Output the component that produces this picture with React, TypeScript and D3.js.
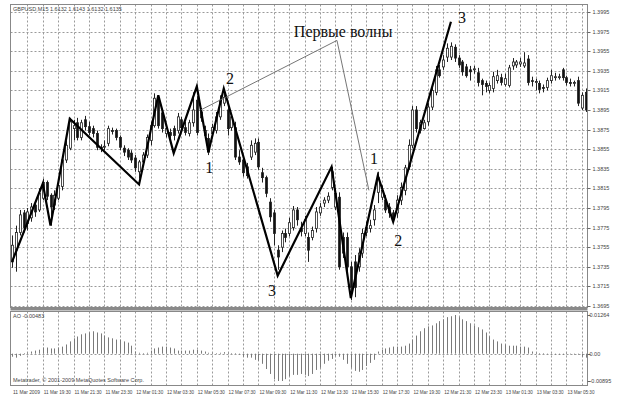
import React from 'react';
import * as d3 from 'd3';

// [open, high, low, close]
const candles: [number, number, number, number][] = [
  [1.3740,1.3767,1.3734,1.3757],[1.3752,1.3777,1.3730,1.3770],[1.3770,1.3793,1.3767,1.3788],[1.3790,1.3793,1.3770,1.3775],
  [1.3779,1.3795,1.3772,1.3791],[1.3785,1.3800,1.3781,1.3796],[1.3798,1.3803,1.3786,1.3791],[1.3793,1.3815,1.3791,1.3810],
  [1.3805,1.3825,1.3803,1.3821],[1.3821,1.3823,1.3803,1.3807],[1.3808,1.3810,1.3777,1.3796],[1.3798,1.3813,1.3793,1.3808],
  [1.3805,1.3823,1.3803,1.3818],[1.3817,1.3847,1.3813,1.3844],[1.3844,1.3864,1.3841,1.3859],[1.3856,1.3887,1.3854,1.3883],
  [1.3876,1.3885,1.3864,1.3879],[1.3882,1.3887,1.3864,1.3867],[1.3867,1.3885,1.3864,1.3882],[1.3885,1.3889,1.3874,1.3878],
  [1.3878,1.3883,1.3869,1.3872],[1.3876,1.3879,1.3867,1.3871],[1.3871,1.3874,1.3854,1.3857],[1.3857,1.3860,1.3852,1.3856],
  [1.3857,1.3864,1.3854,1.3858],[1.3861,1.3879,1.3858,1.3876],[1.3874,1.3877,1.3870,1.3873],[1.3874,1.3876,1.3864,1.3867],
  [1.3867,1.3869,1.3854,1.3857],[1.3856,1.3859,1.3848,1.3852],[1.3854,1.3856,1.3844,1.3847],[1.3851,1.3854,1.3841,1.3844],
  [1.3846,1.3849,1.3832,1.3836],[1.3832,1.3844,1.3825,1.3842],[1.3842,1.3852,1.3839,1.3849],[1.3849,1.3870,1.3846,1.3867],
  [1.3864,1.3883,1.3859,1.3879],[1.3879,1.3912,1.3877,1.3907],[1.3907,1.3910,1.3876,1.3879],[1.3892,1.3895,1.3872,1.3876],
  [1.3871,1.3879,1.3867,1.3876],[1.3872,1.3876,1.3864,1.3869],[1.3876,1.3879,1.3864,1.3869],[1.3874,1.3892,1.3871,1.3888],
  [1.3885,1.3888,1.3874,1.3877],[1.3877,1.3883,1.3869,1.3872],[1.3871,1.3885,1.3868,1.3882],[1.3882,1.3913,1.3878,1.3895],
  [1.3905,1.3909,1.3869,1.3872],[1.3893,1.3897,1.3883,1.3887],[1.3869,1.3879,1.3866,1.3874],[1.3866,1.3871,1.3849,1.3852],
  [1.3871,1.3881,1.3868,1.3877],[1.3874,1.3893,1.3871,1.3888],[1.3888,1.3910,1.3885,1.3905],[1.3902,1.3913,1.3899,1.3908],
  [1.3895,1.3900,1.3869,1.3876],[1.3877,1.3890,1.3874,1.3888],[1.3877,1.3883,1.3844,1.3847],[1.3847,1.3854,1.3839,1.3842],
  [1.3844,1.3849,1.3827,1.3831],[1.3837,1.3841,1.3825,1.3828],[1.3847,1.3864,1.3844,1.3859],[1.3852,1.3866,1.3849,1.3861],
  [1.3862,1.3866,1.3834,1.3837],[1.3831,1.3836,1.3821,1.3826],[1.3826,1.3828,1.3806,1.3810],[1.3801,1.3805,1.3781,1.3786],
  [1.3790,1.3793,1.3757,1.3769],[1.3752,1.3757,1.3732,1.3745],[1.3755,1.3772,1.3750,1.3769],[1.3769,1.3774,1.3760,1.3765],
  [1.3769,1.3785,1.3766,1.3780],[1.3775,1.3797,1.3772,1.3793],[1.3793,1.3796,1.3777,1.3783],[1.3774,1.3781,1.3766,1.3771],
  [1.3769,1.3787,1.3766,1.3783],[1.3765,1.3770,1.3740,1.3752],[1.3765,1.3776,1.3762,1.3772],[1.3774,1.3796,1.3770,1.3791],
  [1.3790,1.3800,1.3787,1.3796],[1.3800,1.3806,1.3796,1.3803],[1.3803,1.3811,1.3800,1.3807],[1.3816,1.3837,1.3813,1.3832],
  [1.3796,1.3815,1.3793,1.3810],[1.3806,1.3811,1.3732,1.3735],[1.3765,1.3770,1.3744,1.3749],[1.3765,1.3770,1.3730,1.3735],
  [1.3735,1.3740,1.3701,1.3714],[1.3740,1.3747,1.3704,1.3714],[1.3735,1.3754,1.3730,1.3749],[1.3749,1.3774,1.3744,1.3769],
  [1.3770,1.3781,1.3766,1.3775],[1.3774,1.3783,1.3770,1.3777],[1.3783,1.3798,1.3777,1.3793],[1.3811,1.3832,1.3800,1.3826],
  [1.3806,1.3818,1.3803,1.3813],[1.3803,1.3808,1.3790,1.3793],[1.3796,1.3800,1.3785,1.3790],[1.3790,1.3793,1.3781,1.3783],
  [1.3790,1.3808,1.3785,1.3803],[1.3803,1.3821,1.3798,1.3816],[1.3813,1.3839,1.3808,1.3836],[1.3837,1.3865,1.3834,1.3859],
  [1.3859,1.3899,1.3856,1.3895],[1.3895,1.3899,1.3872,1.3876],[1.3874,1.3885,1.3871,1.3882],[1.3876,1.3885,1.3875,1.3882],
  [1.3883,1.3902,1.3879,1.3898],[1.3898,1.3920,1.3895,1.3915],[1.3913,1.3940,1.3910,1.3936],[1.3936,1.3941,1.3928,1.3930],
  [1.3939,1.3951,1.3936,1.3946],[1.3949,1.3963,1.3944,1.3958],[1.3949,1.3964,1.3946,1.3960],[1.3959,1.3962,1.3944,1.3948],
  [1.3948,1.3951,1.3938,1.3941],[1.3944,1.3946,1.3930,1.3934],[1.3939,1.3942,1.3928,1.3930],[1.3936,1.3940,1.3925,1.3934],
  [1.3936,1.3940,1.3932,1.3937],[1.3933,1.3938,1.3919,1.3923],[1.3925,1.3927,1.3910,1.3921],[1.3922,1.3925,1.3913,1.3919],
  [1.3915,1.3923,1.3912,1.3920],[1.3917,1.3934,1.3913,1.3929],[1.3925,1.3936,1.3922,1.3930],[1.3928,1.3932,1.3920,1.3923],
  [1.3921,1.3932,1.3919,1.3927],[1.3920,1.3941,1.3918,1.3938],[1.3940,1.3948,1.3936,1.3944],[1.3941,1.3946,1.3938,1.3944],
  [1.3942,1.3948,1.3939,1.3944],[1.3940,1.3954,1.3938,1.3943],[1.3947,1.3951,1.3920,1.3923],[1.3925,1.3929,1.3919,1.3924],
  [1.3923,1.3927,1.3915,1.3924],[1.3922,1.3925,1.3912,1.3916],[1.3918,1.3921,1.3913,1.3917],[1.3918,1.3928,1.3915,1.3925],
  [1.3925,1.3936,1.3922,1.3930],[1.3928,1.3933,1.3925,1.3929],[1.3928,1.3932,1.3926,1.3929],[1.3936,1.3938,1.3925,1.3928],
  [1.3928,1.3930,1.3920,1.3923],[1.3923,1.3927,1.3919,1.3922],[1.3922,1.3925,1.3919,1.3923],[1.3925,1.3929,1.3899,1.3902],
  [1.3897,1.3913,1.3895,1.3910],[1.3913,1.3917,1.3893,1.3895],
];

const aoValues = [
  -0.0010,-0.0013,-0.0007,0.0002,0.0003,0.0007,0.0010,0.0013,0.0020,0.0020,
  0.0017,0.0017,0.0020,0.0023,0.0030,0.0040,0.0050,0.0056,0.0063,0.0066,
  0.0069,0.0073,0.0069,0.0066,0.0059,0.0053,0.0050,0.0046,0.0046,0.0040,
  0.0036,0.0026,0.0007,0.0003,0.0002,0.0003,0.0010,0.0017,0.0020,0.0023,
  0.0023,0.0020,0.0017,0.0010,0.0010,0.0010,0.0010,0.0013,0.0013,0.0010,
  0.0007,0.0003,0.0003,0.0002,0.0003,0.0005,0.0003,0.0002,0.0002,-0.0003,
  -0.0010,-0.0013,-0.0013,-0.0020,-0.0023,-0.0033,-0.0050,-0.0066,-0.0083,-0.0089,
  -0.0089,-0.0083,-0.0073,-0.0069,-0.0069,-0.0066,-0.0069,-0.0073,-0.0066,-0.0053,
  -0.0046,-0.0033,-0.0023,-0.0017,-0.0007,-0.0010,-0.0020,-0.0033,-0.0046,-0.0056,
  -0.0059,-0.0053,-0.0040,-0.0030,-0.0020,0.0007,0.0013,0.0017,0.0020,0.0023,
  0.0023,0.0023,0.0026,0.0033,0.0046,0.0059,0.0073,0.0083,0.0089,0.0092,
  0.0099,0.0106,0.0112,0.0119,0.0122,0.0126,0.0119,0.0112,0.0106,0.0099,
  0.0092,0.0086,0.0079,0.0069,0.0056,0.0046,0.0040,0.0033,0.0030,0.0026,
  0.0026,0.0026,0.0023,0.0023,0.0020,0.0007,0.0003,0.0002,0.0002,-0.0002,
  -0.0002,-0.0003,-0.0003,-0.0003,0.0002,-0.0002,-0.0003,-0.0003,-0.0010,-0.0013,
];

// [bar index, price]
const zigzag: [number, number][] = [
  [0, 1.3740], [8, 1.3820], [10, 1.3777], [15, 1.3886], [33, 1.3819], [38, 1.3910],
  [42, 1.3851], [48, 1.3919], [51, 1.3852], [55, 1.3917], [69, 1.3726], [83, 1.3837],
  [88, 1.3703], [95, 1.3828], [99, 1.3781], [114, 1.3985],
];

const pointerLine: [number, number][] = [[49, 1.3895], [84.4, 1.3966], [92.7, 1.3813]];

const waveLabels = [
  { text: '2', bar: 56.6, price: 1.3927 },
  { text: '1', bar: 51.2, price: 1.3836 },
  { text: '3', bar: 67.5, price: 1.3711 },
  { text: '1', bar: 94.0, price: 1.3846 },
  { text: '2', bar: 100.3, price: 1.3762 },
  { text: '3', bar: 116.9, price: 1.3989 },
];
const annotation = { text: 'Первые волны', bar: 86, price: 1.3975 };

const priceTicks = [1.3995,1.3975,1.3955,1.3935,1.3915,1.3895,1.3875,1.3855,1.3835,1.3815,1.3795,1.3775,1.3755,1.3735,1.3715,1.3695];

const timeLabels = [
  '11 Mar 2009','11 Mar 19:30','11 Mar 21:30','11 Mar 23:30','12 Mar 01:30','12 Mar 03:30','12 Mar 05:30',
  '12 Mar 07:30','12 Mar 09:30','12 Mar 11:30','12 Mar 13:30','12 Mar 15:30','12 Mar 17:30','12 Mar 19:30',
  '12 Mar 21:30','12 Mar 23:30','13 Mar 01:30','13 Mar 03:30','13 Mar 05:30',
];
const aoTickLabels = [
  { v: 0.0126, t: '0.01264' },
  { v: 0, t: '0.00' },
  { v: -0.0089, t: '-0.00895' },
];

const headerText = 'GBPUSD,M15  1.6132 1.6143 1.6132 1.6135';
const aoTitle = 'AO -0.00483';
const copyright = 'Metatrader, © 2001-2009 MetaQuotes Software Corp.';

export default function App() {
  const W = 617, H = 398;
  const left = 10.5, right = 587.5;
  const mainTop = 4.5, mainBottom = 307.5;
  const aoTop = 311.5, aoBottom = 385.5;

  const x = d3.scaleLinear().domain([0, 149]).range([12, 585.7]);
  const y = d3.scaleLinear().domain([1.3695, 1.3995]).range([306, 12]);
  const ya = d3.scaleLinear().domain([-0.0089, 0.0126]).range([381, 315]);

  const gridColor = '#9a9a9a';
  const small = { fontFamily: 'Arial, "Liberation Sans", sans-serif', fontSize: 5.5, fill: '#444' } as const;
  const serif = { fontFamily: '"Liberation Serif", "DejaVu Serif", serif', fontSize: 16, fill: '#111' } as const;

  const vGrid = d3.range(4, 150, 4);
  const line = d3.line<[number, number]>().x(d => x(d[0])).y(d => y(d[1]));

  return (
    <svg width={W} height={H} style={{ position: 'absolute', left: 0, top: 0, background: '#fff' }}>
      <rect x={0} y={0} width={W} height={H} fill="#fff" />
      {priceTicks.map((p, i) => (
        <line key={'hg' + i} x1={left} x2={right} y1={Math.round(y(p)) + 0.5} y2={Math.round(y(p)) + 0.5}
          stroke={gridColor} strokeWidth={1} strokeDasharray="2,2" />
      ))}
      {vGrid.map(i => (
        <g key={'vg' + i}>
          <line x1={Math.round(x(i)) + 0.5} x2={Math.round(x(i)) + 0.5} y1={mainTop} y2={mainBottom}
            stroke={gridColor} strokeWidth={1} strokeDasharray="2,2" />
          <line x1={Math.round(x(i)) + 0.5} x2={Math.round(x(i)) + 0.5} y1={aoTop} y2={aoBottom}
            stroke={gridColor} strokeWidth={1} strokeDasharray="2,2" />
        </g>
      ))}
      <line x1={left} x2={right} y1={Math.round(ya(0)) + 0.5} y2={Math.round(ya(0)) + 0.5}
        stroke={gridColor} strokeWidth={1} strokeDasharray="2,2" />

      {candles.map((c, i) => {
        const [o, h, l, cl] = c;
        const cx = Math.round(x(i)) + 0.5;
        const top = y(Math.max(o, cl));
        const bot = y(Math.min(o, cl));
        const bull = cl >= o;
        return (
          <g key={'c' + i}>
            <line x1={cx} x2={cx} y1={y(h)} y2={y(l)} stroke="#222" strokeWidth={1} />
            <rect x={cx - 1} y={top} width={2} height={Math.max(bot - top, 0.8)}
              fill={bull ? '#fff' : '#111'} stroke="#222" strokeWidth={0.8} />
          </g>
        );
      })}

      <path d={line(zigzag) || ''} fill="none" stroke="#000" strokeWidth={2.2} strokeLinejoin="miter" />
      <path d={line(pointerLine) || ''} fill="none" stroke="#666" strokeWidth={0.9} />

      {waveLabels.map((w, i) => (
        <text key={'wl' + i} x={x(w.bar)} y={y(w.price)} textAnchor="middle" dominantBaseline="central" {...serif}>{w.text}</text>
      ))}
      <text x={x(annotation.bar)} y={y(annotation.price)} textAnchor="middle" dominantBaseline="central" {...serif}>{annotation.text}</text>

      {aoValues.map((v, i) => (
        <line key={'ao' + i} x1={Math.round(x(i)) + 0.5} x2={Math.round(x(i)) + 0.5} y1={ya(0)} y2={ya(v)}
          stroke="#7a7a7a" strokeWidth={1} />
      ))}

      <rect x={left} y={mainTop} width={right - left} height={mainBottom - mainTop} fill="none" stroke="#888" strokeWidth={1} />
      <rect x={left} y={307.5} width={right - left} height={3} fill="#8a8a8a" />
      <rect x={left} y={aoTop} width={right - left} height={aoBottom - aoTop} fill="none" stroke="#888" strokeWidth={1} />

      {priceTicks.map((p, i) => (
        <g key={'pt' + i}>
          <line x1={right} x2={right + 3} y1={Math.round(y(p)) + 0.5} y2={Math.round(y(p)) + 0.5} stroke="#666" />
          <text x={right + 5} y={y(p)} dominantBaseline="central" {...small}>{p.toFixed(4)}</text>
        </g>
      ))}
      {aoTickLabels.map((a, i) => (
        <g key={'at' + i}>
          <line x1={right} x2={right + 3} y1={Math.round(ya(a.v)) + 0.5} y2={Math.round(ya(a.v)) + 0.5} stroke="#666" />
          <text x={right + 2} y={ya(a.v)} dominantBaseline="central" {...small}>{a.t}</text>
        </g>
      ))}

      {timeLabels.map((t, k) => (
        <text key={'tl' + k} x={x(k * 8) + 1} y={392} dominantBaseline="central" textLength={27}
          lengthAdjust="spacingAndGlyphs" {...small}>{t}</text>
      ))}

      <text x={13} y={11} {...small}>{headerText}</text>
      <text x={13} y={318} {...small}>{aoTitle}</text>
      <text x={13} y={382} {...small}>{copyright}</text>
    </svg>
  );
}
